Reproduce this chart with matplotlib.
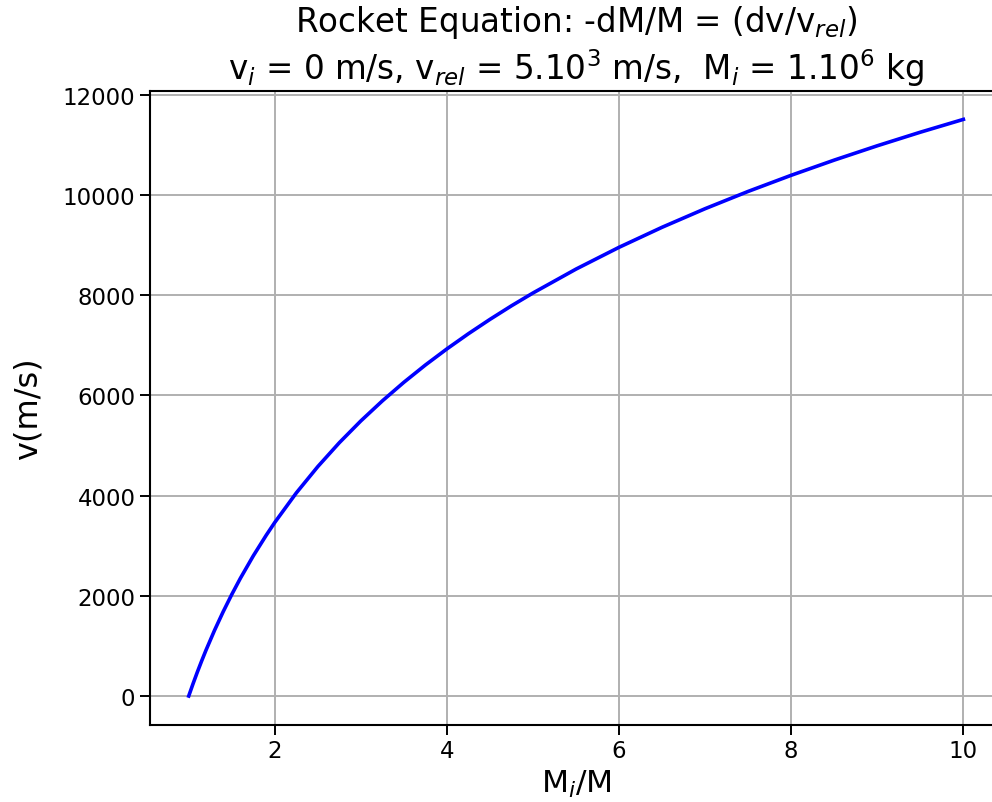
import matplotlib
matplotlib.use('Agg')
import matplotlib.pyplot as plt

# mass ratio Mi/M and velocity (m/s)
mass_ratio = [1.0, 1.05, 1.1, 1.15, 1.2, 1.3, 1.4, 1.5, 1.6, 1.75, 1.9, 2.0,
              2.25, 2.5, 2.75, 3.0, 3.25, 3.5, 3.75, 4.0, 4.25, 4.5, 4.75,
              5.0, 5.5, 6.0, 6.5, 7.0, 7.5, 8.0, 8.5, 9.0, 9.5, 10.0]
velocity = [0, 244, 477, 699, 912, 1312, 1682, 2027, 2350, 2798, 3209, 3466,
            4055, 4581, 5058, 5493, 5893, 6264, 6609, 6931, 7234, 7520, 7791,
            8047, 8524, 8959, 9359, 9730, 10075, 10397, 10700, 10986, 11257,
            11513]

fig = plt.figure(figsize=(9.92, 8.03), dpi=100)
ax = fig.add_axes([0.1512, 0.0961, 0.859, 0.7899])

ax.plot(mass_ratio, velocity, 'b-', lw=2.6)
ax.grid(True, color='#b0b0b0', lw=1.4)
ax.set_xticks([2, 4, 6, 8, 10])
ax.set_yticks(range(0, 12001, 2000))
ax.tick_params(labelsize=16.5, length=7, width=1.4)
for s in ax.spines.values():
    s.set_linewidth(1.5)
ax.spines['right'].set_visible(False)

ax.set_xlabel(r'M$_i$/M', fontsize=22.5)
ax.set_ylabel('v(m/s)', fontsize=23, labelpad=14)
ax.set_title('Rocket Equation: -dM/M = (dv/v$_{rel}$)\n'
             r'v$_i$ = 0 m/s, v$_{rel}$ = 5.10$^3$ m/s,  M$_i$ = 1.10$^6$ kg',
             fontsize=23.5, pad=8)

fig.savefig('out.png', dpi=100)
